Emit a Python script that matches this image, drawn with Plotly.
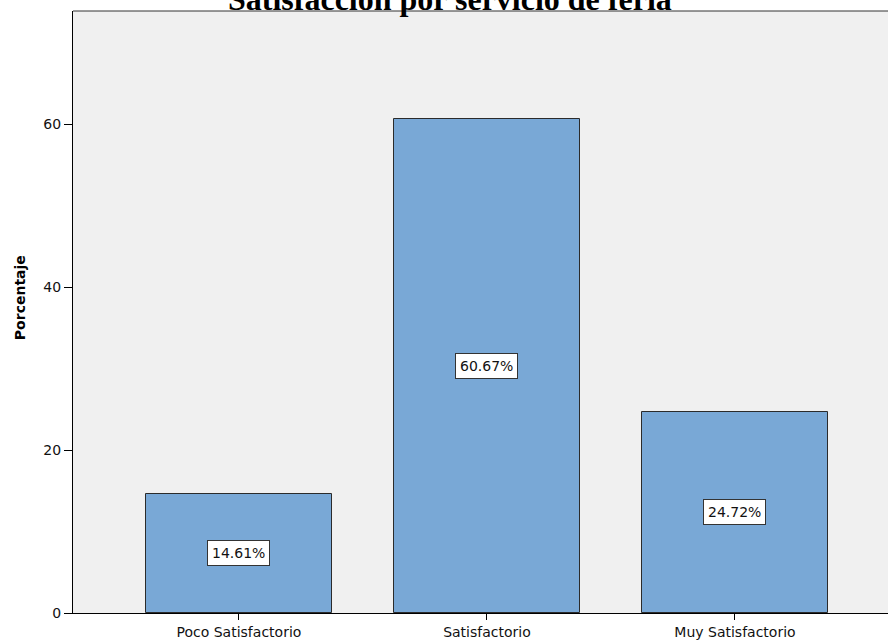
import plotly.graph_objects as go

# Satisfaction with the fair service, percentage of respondents
categories = ["Poco Satisfactorio", "Satisfactorio", "Muy Satisfactorio"]
percentages = [14.61, 60.67, 24.72]
y_ticks = [0, 20, 40, 60]

BAR_COLOR = "#79a8d6"
PLOT_BG = "#f0f0f0"
SANS = "DejaVu Sans, Verdana, sans-serif"
x_pos = list(range(len(categories)))

# plot area geometry in pixels (left margin and inner width)
LEFT = 73
PLOT_W = 888 - LEFT

fig = go.Figure()
fig.add_trace(go.Bar(
    x=x_pos,
    y=percentages,
    width=0.75,
    marker=dict(color=BAR_COLOR, line=dict(color="#2b2b2b", width=1)),
    hoverinfo="skip",
))

# Boxed percentage labels at mid-height of each bar
for xi, v in zip(x_pos, percentages):
    fig.add_annotation(
        x=xi, y=v / 2, xref="x", yref="y",
        text=f"{v:.2f}%", showarrow=False,
        font=dict(family=SANS, size=14, color="#111111"),
        bgcolor="white", bordercolor="#333333", borderwidth=1, borderpad=4,
    )

# Chart title (serif, bold)
fig.add_annotation(
    x=(450 - LEFT) / PLOT_W, xref="paper", y=1, yref="paper",
    text="<b>Satisfacción por servicio de feria</b>", showarrow=False,
    xanchor="center", yanchor="bottom", yshift=-8,
    font=dict(family="Liberation Serif, Times New Roman, serif", size=32, color="black"),
)

# Y axis title
fig.add_annotation(
    x=(20 - LEFT) / PLOT_W, xref="paper", y=0.523, yref="paper",
    text="<b>Porcentaje</b>", showarrow=False, textangle=-90,
    xanchor="center", yanchor="middle",
    font=dict(family=SANS, size=14, color="black"),
)

# Top frame line of the plot area
fig.add_shape(type="line", xref="paper", yref="paper",
              x0=0, x1=1, y0=1, y1=1,
              line=dict(color="#333333", width=1))

fig.update_layout(
    width=888, height=641,
    margin=dict(l=LEFT, r=0, t=11, b=28, pad=0),
    paper_bgcolor="white",
    plot_bgcolor=PLOT_BG,
    showlegend=False,
    bargap=0,
    xaxis=dict(
        range=[-0.669, 2.617],
        tickmode="array", tickvals=x_pos, ticktext=categories,
        ticks="outside", ticklen=6, tickwidth=1, tickcolor="black",
        showline=True, linecolor="black", linewidth=1,
        showgrid=False, zeroline=False,
        tickfont=dict(family=SANS, size=14, color="#111111"),
        fixedrange=True,
    ),
    yaxis=dict(
        range=[0, 73.9],
        tickmode="array", tickvals=y_ticks,
        ticks="outside", ticklen=8, tickwidth=1, tickcolor="black",
        showline=True, linecolor="black", linewidth=1,
        showgrid=False, zeroline=False,
        tickfont=dict(family=SANS, size=14, color="#111111"),
        fixedrange=True,
    ),
)

fig.write_html("out.html")
